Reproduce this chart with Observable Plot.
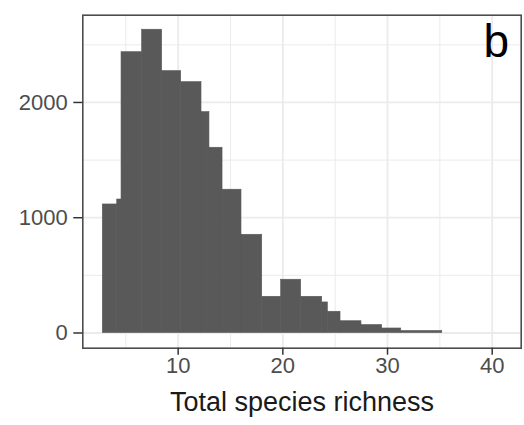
<!DOCTYPE html>
<html>
<head>
<meta charset="utf-8">
<script src="https://cdn.jsdelivr.net/npm/d3@7"></script>
<script src="https://cdn.jsdelivr.net/npm/@observablehq/plot@0.6"></script>
<style>
  html, body { margin: 0; padding: 0; background: #fff; }
  #chart svg { display: block; }
</style>
</head>
<body>
<div id="chart"></div>
<script>
// Histogram bins (species richness edges, counts)
const binStart = [2.80, 4.18, 4.59, 6.56, 8.47, 10.29, 12.23, 12.99, 14.24, 16.05, 18.03, 19.84, 21.75, 23.76, 24.30, 25.51, 27.51, 29.49, 31.31];
const binEnd   = [4.18, 4.59, 6.56, 8.47, 10.29, 12.23, 12.99, 14.24, 16.05, 18.03, 19.84, 21.75, 23.76, 24.30, 25.51, 27.51, 29.49, 31.31, 35.23];
const counts   = [1115, 1158, 2436, 2631, 2272, 2176, 1916, 1607, 1243, 852, 314, 462, 314, 265, 184, 102, 69, 39, 17];

const xTicks = [10, 20, 30, 40];
const xMinor = [5, 15, 25, 35];
const yTicks = [0, 1000, 2000];
const yMinor = [500, 1500, 2500];
const xLabel = "Total species richness";
const panelTag = "b";

const bins = binStart.map((s, i) => ({x1: s, x2: binEnd[i], n: counts[i]}));

const font = "'Liberation Sans', Arial, Helvetica, sans-serif";

const chart = Plot.plot({
  width: 524,
  height: 425,
  marginLeft: 82.3,
  marginRight: 3.3,
  marginTop: 14.7,
  marginBottom: 77.3,
  style: {fontFamily: font, background: "#fff", overflow: "visible"},
  x: {domain: [0.89, 42.77]},
  y: {domain: [-132, 2757]},
  marks: [
    Plot.ruleX(xMinor, {stroke: "#ebebeb", strokeWidth: 1}),
    Plot.ruleY(yMinor, {stroke: "#ebebeb", strokeWidth: 1}),
    Plot.ruleX(xTicks, {stroke: "#ebebeb", strokeWidth: 1.8}),
    Plot.ruleY(yTicks, {stroke: "#ebebeb", strokeWidth: 1.8}),
    Plot.rectY(bins, {x1: "x1", x2: "x2", y1: 0, y2: "n", fill: "#595959", stroke: "#595959", strokeWidth: 0.6, inset: 0}),
    Plot.frame({stroke: "#4d4d4d", strokeWidth: 1.6}),
    Plot.axisX(xTicks, {tickSize: 7, tickPadding: 2, fontSize: 22, color: "#4d4d4d", stroke: "#333", strokeWidth: 1.5, label: null, tickFormat: d => String(d)}),
    Plot.axisY(yTicks, {tickSize: 9, tickPadding: 6, fontSize: 22, color: "#4d4d4d", stroke: "#333", strokeWidth: 1.5, label: null, tickFormat: d => String(d)}),
    Plot.text([xLabel], {frameAnchor: "bottom", dy: 53.7, fontSize: 27, fill: "#1a1a1a", lineAnchor: "middle"}),
    Plot.text([panelTag], {frameAnchor: "top-right", dx: -12, dy: 9.3, fontSize: 46, fill: "#000", textAnchor: "end", lineAnchor: "top"})
  ]
});

document.getElementById("chart").appendChild(chart);
</script>
</body>
</html>
